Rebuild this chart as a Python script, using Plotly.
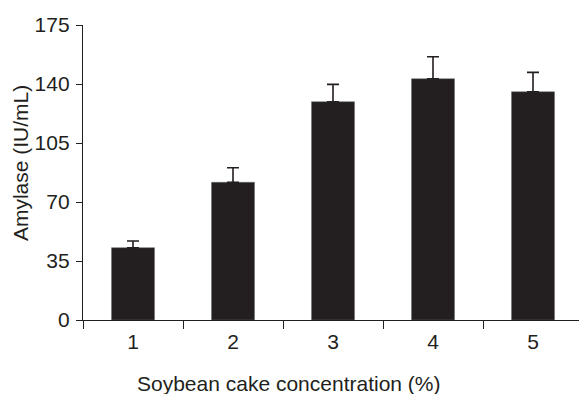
import plotly.graph_objects as go

# Amylase activity at each soybean cake concentration (mean with upper SD bar)
concentrations = ["1", "2", "3", "4", "5"]
amylase = [42.9, 81.7, 129.5, 143.1, 135.4]
amylase_sd = [4.0, 8.6, 10.3, 13.1, 11.5]
y_ticks = [0, 35, 70, 105, 140, 175]

ink = "#231f20"
font_family = "Liberation Sans, Arial, sans-serif"

fig = go.Figure(
    go.Bar(
        x=concentrations,
        y=amylase,
        width=0.43,
        marker=dict(color=ink, line=dict(color="#6a6a6a", width=0.5)),
        error_y=dict(
            type="data",
            array=amylase_sd,
            arrayminus=[0] * len(amylase_sd),
            symmetric=False,
            color=ink,
            thickness=1.6,
            width=6,
        ),
    )
)

fig.update_layout(
    width=579,
    height=394,
    margin=dict(l=83, r=0, t=25, b=74),
    paper_bgcolor="white",
    plot_bgcolor="white",
    showlegend=False,
    font=dict(family=font_family, size=21, color=ink),
    xaxis=dict(
        type="category",
        range=[-0.5, 4.46],
        tickson="boundaries",
        ticks="outside",
        ticklen=8,
        tickwidth=1.4,
        tickcolor=ink,
        showline=True,
        linecolor=ink,
        linewidth=1.4,
        showgrid=False,
        ticklabelstandoff=3,
        tickfont=dict(size=21),
    ),
    yaxis=dict(
        range=[0, 175],
        tickvals=y_ticks,
        ticks="outside",
        ticklen=6,
        tickwidth=1.4,
        tickcolor=ink,
        showline=True,
        linecolor=ink,
        linewidth=1.4,
        showgrid=False,
        zeroline=False,
        ticklabelstandoff=2,
        tickfont=dict(size=21),
    ),
    annotations=[
        dict(
            text="Soybean cake concentration (%)",
            xref="paper", yref="paper",
            x=0.416, y=-0.2136,
            xanchor="center", yanchor="middle",
            showarrow=False,
            font=dict(size=21, color=ink),
        ),
        dict(
            text="Amylase (IU/mL)",
            xref="paper", yref="paper",
            x=-0.127, y=0.532,
            xanchor="center", yanchor="middle",
            textangle=-90,
            showarrow=False,
            font=dict(size=21, color=ink),
        ),
    ],
)

fig.write_html("out.html")
